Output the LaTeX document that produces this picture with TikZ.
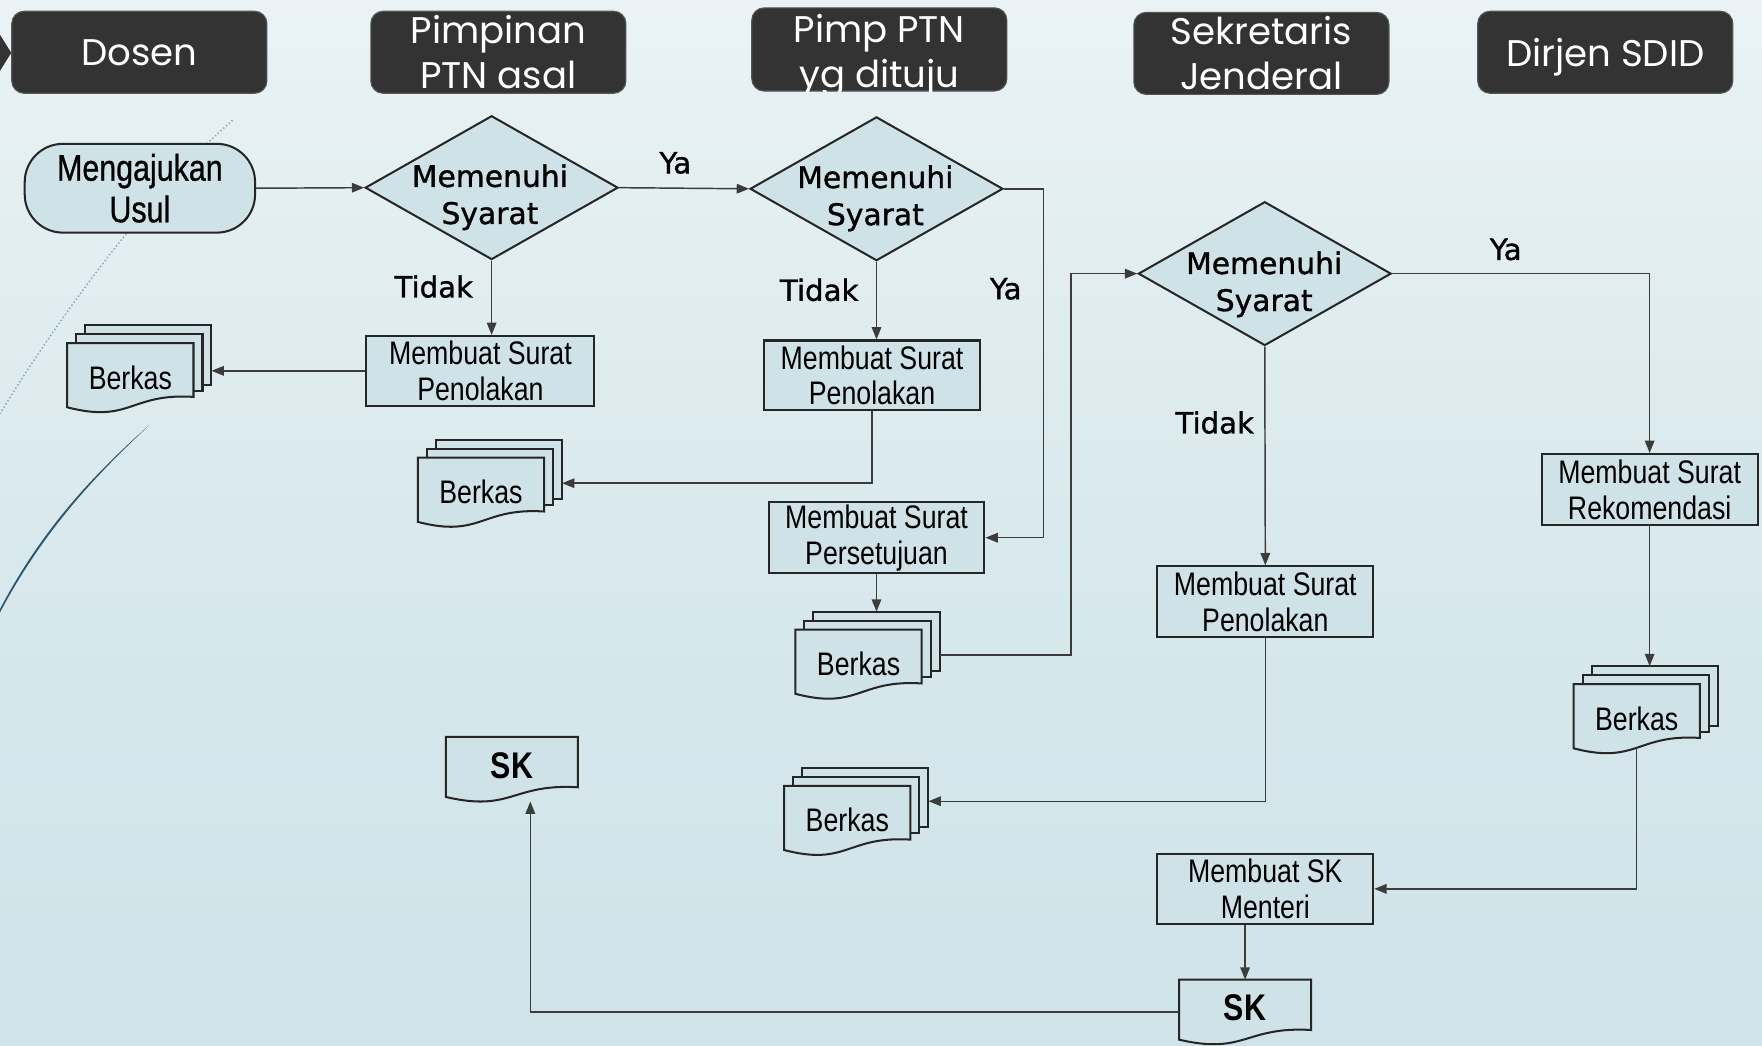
\documentclass[tikz,border=0pt]{standalone}
\usepackage{fontspec}
\setmainfont{Liberation Sans}
\newfontfamily\narrowfont{Liberation Sans}[FakeStretch=0.82]
\newfontfamily\narrowmed{Liberation Sans}[FakeStretch=0.82,FakeBold=0.7]
\newfontfamily\hdrfont{Poppins}
\newfontfamily\diafont{DejaVu Sans}[FakeBold=1.1]
\usetikzlibrary{shapes.geometric,arrows.meta,calc}
\definecolor{hdrfill}{HTML}{333333}
\definecolor{hdredge}{HTML}{555555}
\definecolor{nodefill}{HTML}{CFE2E8}
\definecolor{nodeline}{HTML}{262626}
\definecolor{connc}{HTML}{3C3C3C}
\definecolor{bgtop}{HTML}{F8FAFB}
\definecolor{bgtoptwo}{HTML}{EFF5F7}
\definecolor{bgmid}{HTML}{D9E9ED}
\definecolor{bgbot}{HTML}{C4DDE3}
\definecolor{decodot}{HTML}{8FA7B3}
\definecolor{decoblue}{HTML}{2C5670}
\pgfdeclareverticalshading{bgshade}{100bp}{color(0bp)=(bgbot); color(50bp)=(bgmid); color(82bp)=(bgtoptwo); color(100bp)=(bgtop)}
\pgfdeclarelayer{bglayer}
\pgfdeclarelayer{docs}
\pgfsetlayers{bglayer,docs,main}
\newcommand\proctext{\narrowfont\fontsize{29}{32}\selectfont}
\newcommand\hdrtxt{\hdrfont\fontsize{33}{40}\selectfont}
\newcommand\diatxt{\diafont\fontsize{26.5}{33}\selectfont}
\newcommand\lbltxt{\diafont\fontsize{26}{30}\selectfont}
\newcommand\sktxt{\narrowfont\bfseries\fontsize{33}{36}\selectfont}
\newcommand\starttxt{\narrowmed\fontsize{33}{37}\selectfont}
% document outline with wavy bottom, drawn from a node's box
\newcommand\docoutline[1]{%
  \path[docstyle] let \p1=(#1.north west), \p2=(#1.south east) in
    (\x1,\y1) -- (\x2,\y1) -- (\x2,{\y1+0.78*(\y2-\y1)})
    .. controls ({\x1+0.5*(\x2-\x1)},{\y1+0.72*(\y2-\y1)}) and ({\x1+0.5*(\x2-\x1)},{\y1+1.17*(\y2-\y1)}) ..
    (\x1,{\y1+0.93*(\y2-\y1)}) -- cycle;}
\newcommand\multidoc[1]{%
  \path[docstyle] let \p1=(#1.north west), \p2=(#1.south east) in
    ({\x1+16pt},{\y1+16pt}) rectangle ({\x2+16pt},{\y1+0.78*(\y2-\y1)+11pt});
  \path[docstyle] let \p1=(#1.north west), \p2=(#1.south east) in
    ({\x1+8pt},{\y1+8pt}) rectangle ({\x2+8pt},{\y1+0.78*(\y2-\y1)+5.5pt});
  \docoutline{#1}}
\begin{document}
\begin{tikzpicture}[x=1pt,y=-1pt,
  hdr/.style={draw=hdredge, line width=1pt, fill=hdrfill, rounded corners=11pt, minimum width=227pt, minimum height=73pt, inner sep=0pt, text=white, font=\hdrtxt, align=center},
  hdrtext/.style={text=white, font=\hdrtxt, align=center, inner sep=0pt},
  proc/.style={draw=nodeline, fill=nodefill, line width=1.8pt, minimum width=192pt, minimum height=63pt, inner sep=0pt, align=center, font=\proctext},
  startbox/.style={draw=nodeline, fill=nodefill, line width=1.8pt, rounded corners=34pt, minimum width=205pt, minimum height=79pt, inner sep=0pt, align=center, font=\starttxt},
  dia/.style={diamond, draw=nodeline, fill=nodefill, line width=1.8pt, minimum width=225pt, minimum height=128pt, inner sep=0pt},
  diatext/.style={align=center, font=\diatxt, inner sep=0pt},
  lbl/.style={font=\lbltxt, inner sep=0pt},
  berkas/.style={minimum width=112pt, minimum height=61pt, inner sep=0pt, font=\proctext},
  skdoc/.style={minimum width=117pt, minimum height=57pt, inner sep=0pt, font=\sktxt, text depth=7pt},
  docstyle/.style={draw=nodeline, fill=nodefill, line width=1.8pt},
  conn/.style={draw=connc, line width=1.3pt, -{Triangle[length=11pt,width=8.5pt]}}
]
\useasboundingbox (0,0) rectangle (1568,930);
\begin{pgfonlayer}{bglayer}
  \shade[shading=bgshade] (0,0) rectangle (1568,930);
  \draw[decodot, dotted, line width=1.3pt] (207,107) .. controls (140,165) and (60,270) .. (0,368);
  \fill[decoblue] (133,378) .. controls (100,410) and (45,460) .. (0,545) -- (0,542) .. controls (44,458) and (99,409) .. (133,378) -- cycle;
\end{pgfonlayer}

% headers
\fill[hdrfill] (0,31) -- (10,47) -- (0,63) -- cycle;
\node[hdr] (h1) at (124,46.5) {Dosen};
\node[hdr] (h2) at (443.5,46.5) {Pimpinan\\PTN asal};
\node[hdr, minimum height=74pt] (h3) at (782.5,44) {};
\begin{scope}
  \clip[rounded corners=11pt] (h3.north west) rectangle (h3.south east);
  \node[hdrtext] (h3t) at (782.5,50) {Pimp PTN\\yg dituju};
\end{scope}
\node[hdr] (h4) at (1122.5,47.5) {Sekretaris\\Jenderal};
\node[hdr, text depth=0pt] (h5) at (1428.5,46.5) {Dirjen SDID};

% flow nodes
\node[startbox] (start) at (124.5,167.5) {Mengajukan\\Usul};
\node[dia] (d1) at (437.5,167) {};
\node[diatext] (d1t) at (436,175.5) {Memenuhi\\Syarat};
\node[dia] (d2) at (780,168) {};
\node[diatext] (d2t) at (779,176.5) {Memenuhi\\Syarat};
\node[dia] (d3) at (1125.5,243.5) {};
\node[diatext] (d3t) at (1125,253) {Memenuhi\\Syarat};

\node[proc, minimum width=203pt, minimum height=62pt] (p1) at (427.5,330) {Membuat Surat\\Penolakan};
\node[proc, minimum height=62pt] (p2) at (776,334) {Membuat Surat\\Penolakan};
\node[proc] (p3) at (780,478.5) {Membuat Surat\\Persetujuan};
\node[proc] (p4) at (1126,535.5) {Membuat Surat\\Penolakan};
\node[proc] (p5) at (1468,435.5) {Membuat Surat\\Rekomendasi};
\node[proc, minimum height=62pt] (p6) at (1126,791) {Membuat SK\\Menteri};

\node[berkas] (b1) at (116,336) {Berkas};
\node[berkas] (b2) at (428,438) {Berkas};
\node[berkas] (b3) at (764,591) {Berkas};
\node[berkas] (b4) at (754,730) {Berkas};
\node[berkas] (b5) at (1456.5,639.5) {Berkas};
\node[skdoc] (sk1) at (455.5,684.5) {SK};
\node[skdoc] (sk2) at (1108,900.5) {SK};

\begin{pgfonlayer}{docs}
  \multidoc{b1}
  \multidoc{b2}
  \multidoc{b3}
  \multidoc{b4}
  \multidoc{b5}
  \docoutline{sk1}
  \docoutline{sk2}
\end{pgfonlayer}

% labels
\node[lbl] (l1) at (601,145) {Ya};
\node[lbl] (l2) at (386,255) {Tidak};
\node[lbl] (l3) at (729,258) {Tidak};
\node[lbl] (l4) at (895,257) {Ya};
\node[lbl] (l5) at (1081,376) {Tidak};
\node[lbl] (l6) at (1340,222) {Ya};

% connector end points
\coordinate (b1r) at ($(b1.east)+(16,0)$);
\coordinate (b2r) at ($(b2.east)+(16,-8)$);
\coordinate (b3t) at ($(b3.north)+(0,-16)$);
\coordinate (b3r) at ($(b3.east)+(16,-8)$);
\coordinate (b4r) at ($(b4.east)+(16,-17)$);
\coordinate (b5t) at ($(b5.north)+(0,-16)$);
\coordinate (b5b) at ($(b5.south)+(0,-5)$);
\coordinate (sk1b) at ($(sk1.south west)!0.64!(sk1.south east)$);

% connectors
\draw[conn] (start.east) -- (d1.west);
\draw[conn] (d1.east) -- (d2.west);
\draw[conn] (d1.south) -- (d1.south |- p1.north);
\draw[conn] (p1.west) -- (p1.west -| b1r);
\draw[conn] (d2.south) -- (d2.south |- p2.north);
\draw[conn] (p2.south) |- (b2r);
\draw[conn] (d2.east) -- ++(35,0) |- (p3.east);
\draw[conn] (p3.south) -- (p3.south |- b3t);
\draw[conn] (b3r) -- ++(117,0) |- (d3.west);
\draw[conn] (d3.south) -- (p4.north);
\draw[conn] (p4.south) |- (b4r);
\draw[conn] (d3.east) -| (p5.north);
\draw[conn] (p5.south) -- (p5.south |- b5t);
\draw[conn] (b5b) |- (p6.east);
\draw[conn] (sk2.north |- p6.south) -- (sk2.north);
\draw[conn] (sk2.west) -| (sk1b);
\end{tikzpicture}
\end{document}
